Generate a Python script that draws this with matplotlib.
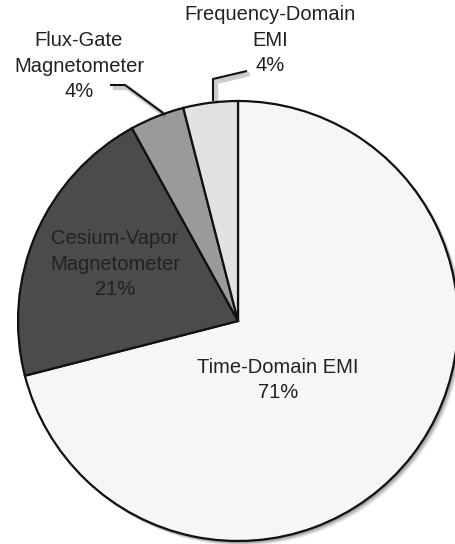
import matplotlib.pyplot as plt
from matplotlib.patches import Circle
import matplotlib.patheffects as pe

plt.rcParams['font.family'] = ['Liberation Sans', 'DejaVu Sans']

# data
labels = ['Time-Domain EMI', 'Cesium-Vapor\nMagnetometer', 'Flux-Gate\nMagnetometer', 'Frequency-Domain\nEMI']
shares = [71, 21, 4, 4]
colors = ['#f6f6f6', '#4b4b4b', '#9a9a9a', '#e2e2e2']

W, H = 456, 544
fig = plt.figure(figsize=(W / 100, H / 100), dpi=100)
ax = fig.add_axes([0, 0, 1, 1])

cx, cy, r = 238, H - 321, 220

# soft shadow behind pie (bottom-right)
for i, a in enumerate([0.10, 0.10, 0.10, 0.08, 0.06]):
    ax.add_patch(Circle((cx + 1 + i * 0.8, cy - 1 - i * 0.8), r + 0.5, color='k', alpha=a, lw=0, zorder=0))

wedges, _ = ax.pie(shares, colors=colors, startangle=90, counterclock=False,
                   center=(cx, cy), radius=r, frame=True,
                   wedgeprops=dict(edgecolor='#111111', linewidth=1.6))
for w in wedges:
    w.set_zorder(2)
ax.set_xlim(0, W)
ax.set_ylim(0, H)
ax.axis('off')

txt = dict(ha='center', va='center', fontsize=14.5, color='#222222', linespacing=1.45, zorder=5)
ax.text(278, H - 380, f'{labels[0]}\n{shares[0]}%', **txt)
ax.text(115, H - 264, f'{labels[1]}\n{shares[1]}%', **txt)
ax.text(79, H - 66, f'{labels[2]}\n{shares[2]}%', **txt)
ax.text(270, H - 40, f'{labels[3]}\n{shares[3]}%', **txt)

# leader lines
shadow = [pe.SimpleLineShadow(offset=(2, -2), shadow_color='k', alpha=0.2, linewidth=3.5), pe.Normal()]
ax.plot([110, 125, 163], [H - 85, H - 85, H - 113], color='#111111', lw=1.5,
        path_effects=shadow, zorder=4, solid_capstyle='butt')
ax.plot([247, 213, 213], [H - 71, H - 79, H - 101], color='#111111', lw=1.5,
        path_effects=shadow, zorder=4, solid_capstyle='butt')

fig.savefig('out.png', dpi=100, facecolor='white')
